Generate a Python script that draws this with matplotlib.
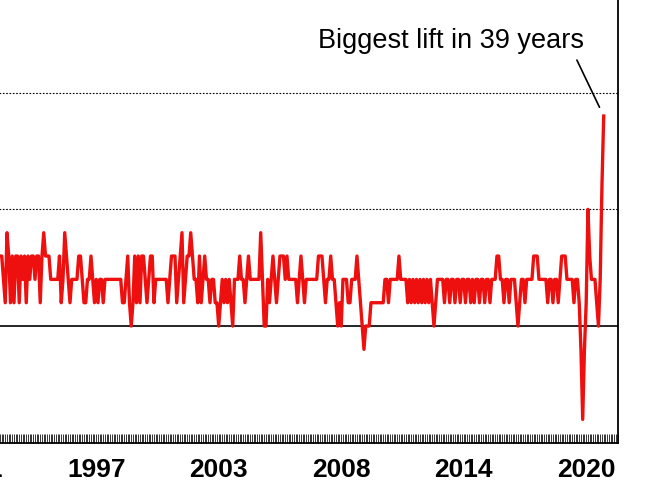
import numpy as np
import pandas as pd
import matplotlib.pyplot as plt

plt.rcParams['font.family'] = ['Liberation Sans', 'DejaVu Sans']

# monthly % change, Sep 1992 .. Jun 2021
start_month = '1992-09-01'
values = [
    0.3, 0.3, 0.2, 0.1, 0.4, 0.3, 0.1, 0.3, 0.1, 0.3,
    0.3, 0.1, 0.3, 0.2, 0.3, 0.1, 0.3, 0.2, 0.3, 0.3,
    0.2, 0.3, 0.3, 0.1, 0.3, 0.4, 0.3, 0.3, 0.3, 0.2,
    0.2, 0.2, 0.2, 0.2, 0.3, 0.1, 0.2, 0.4, 0.3, 0.2,
    0.1, 0.2, 0.2, 0.2, 0.2, 0.3, 0.3, 0.2, 0.1, 0.1,
    0.2, 0.2, 0.3, 0.2, 0.1, 0.2, 0.1, 0.2, 0.2, 0.1,
    0.2, 0.2, 0.2, 0.2, 0.2, 0.2, 0.2, 0.2, 0.2, 0.2,
    0.1, 0.1, 0.2, 0.3, 0.1, 0.0, 0.1, 0.3, 0.1, 0.3,
    0.1, 0.3, 0.3, 0.2, 0.1, 0.2, 0.3, 0.3, 0.1, 0.2,
    0.2, 0.2, 0.2, 0.2, 0.2, 0.2, 0.1, 0.2, 0.3, 0.3,
    0.3, 0.1, 0.2, 0.3, 0.4, 0.1, 0.2, 0.3, 0.3, 0.4,
    0.3, 0.2, 0.2, 0.1, 0.3, 0.1, 0.2, 0.3, 0.2, 0.2,
    0.1, 0.2, 0.2, 0.1, 0.1, 0.0, 0.1, 0.2, 0.1, 0.2,
    0.1, 0.2, 0.1, 0.0, 0.2, 0.2, 0.2, 0.3, 0.2, 0.2,
    0.1, 0.2, 0.3, 0.2, 0.2, 0.2, 0.2, 0.2, 0.2, 0.4,
    0.2, 0.0, 0.0, 0.2, 0.1, 0.2, 0.3, 0.2, 0.1, 0.2,
    0.3, 0.3, 0.3, 0.2, 0.3, 0.2, 0.2, 0.2, 0.2, 0.2,
    0.1, 0.2, 0.3, 0.2, 0.1, 0.2, 0.2, 0.2, 0.2, 0.2,
    0.2, 0.2, 0.3, 0.3, 0.3, 0.2, 0.1, 0.2, 0.2, 0.3,
    0.2, 0.2, 0.1, 0.0, 0.1, 0.0, 0.2, 0.2, 0.2, 0.1,
    0.1, 0.2, 0.2, 0.2, 0.3, 0.2, 0.1, 0.0, -0.1, 0.0,
    0.0, 0.0, 0.1, 0.1, 0.1, 0.1, 0.1, 0.1, 0.1, 0.1,
    0.2, 0.2, 0.1, 0.2, 0.2, 0.2, 0.2, 0.2, 0.3, 0.2,
    0.2, 0.2, 0.2, 0.1, 0.2, 0.1, 0.2, 0.1, 0.2, 0.1,
    0.2, 0.1, 0.2, 0.1, 0.2, 0.1, 0.2, 0.1, 0.0, 0.1,
    0.2, 0.2, 0.2, 0.2, 0.1, 0.2, 0.2, 0.1, 0.2, 0.2,
    0.1, 0.2, 0.2, 0.1, 0.2, 0.2, 0.1, 0.2, 0.2, 0.1,
    0.2, 0.1, 0.2, 0.2, 0.1, 0.2, 0.2, 0.1, 0.2, 0.2,
    0.1, 0.2, 0.2, 0.2, 0.3, 0.3, 0.2, 0.2, 0.1, 0.2,
    0.2, 0.1, 0.2, 0.2, 0.2, 0.1, 0.0, 0.1, 0.2, 0.2,
    0.1, 0.2, 0.2, 0.2, 0.2, 0.3, 0.3, 0.3, 0.2, 0.2,
    0.2, 0.2, 0.2, 0.1, 0.2, 0.2, 0.1, 0.2, 0.2, 0.1,
    0.2, 0.3, 0.3, 0.3, 0.2, 0.2, 0.2, 0.2, 0.1, 0.2,
    0.2, 0.1, -0.1, -0.4, -0.1, 0.1, 0.5, 0.3, 0.2, 0.2,
    0.2, 0.1, 0.0, 0.2, 0.6, 0.9,
]
label_every = 70      # category label interval (months)
first_label = -15     # index of first label (off to the left)
note = 'Biggest lift in 39 years'

n = len(values)
x = np.arange(n)
start = pd.Timestamp(start_month)

fig = plt.figure(figsize=(6.5, 4.88), dpi=100)
# axes deliberately runs off the left and top edges (cropped chart)
ax = fig.add_axes([-0.1077, 0.0928, 1.058, 0.9563])

ax.plot(x, values, color='#ee0f0f', lw=2.4, solid_joinstyle='round', zorder=3)

ax.axhline(0, color='black', lw=1.2, zorder=2)
for g in [0.5, 1.0]:
    ax.axhline(g, color='black', lw=0.8, ls=(0, (1.5, 1.5)), zorder=1)

ax.set_xlim(-40, 353)
ax.set_ylim(-0.5, 1.5)

# month ticks + year labels every 70 months
ax.set_xticks(np.arange(-40, 354), minor=True)
tick_pos = np.arange(first_label, n, label_every)
tick_lab = [str((start + pd.DateOffset(months=int(p))).year) for p in tick_pos]
ax.set_xticks(tick_pos)
ax.set_xticklabels(tick_lab, fontsize=19, fontweight='bold')
ax.tick_params(axis='x', which='both', direction='in', length=6.5, width=0.7,
               color='#333333', pad=11)
ax.set_yticks([])

for side in ['left', 'top']:
    ax.spines[side].set_visible(False)
for side in ['right', 'bottom']:
    ax.spines[side].set_linewidth(1.3)

ax.annotate(note, xy=(x[-1], values[-1]), xytext=(-110, 54),
            textcoords='offset points', ha='center', va='center', fontsize=19.5)
ax.annotate('', xy=(x[-1], values[-1]), xytext=(-19.3, 40.3),
            textcoords='offset points',
            arrowprops=dict(arrowstyle='-', color='black', lw=1.2,
                            shrinkA=0, shrinkB=7))

fig.savefig('out.png', dpi=100)
